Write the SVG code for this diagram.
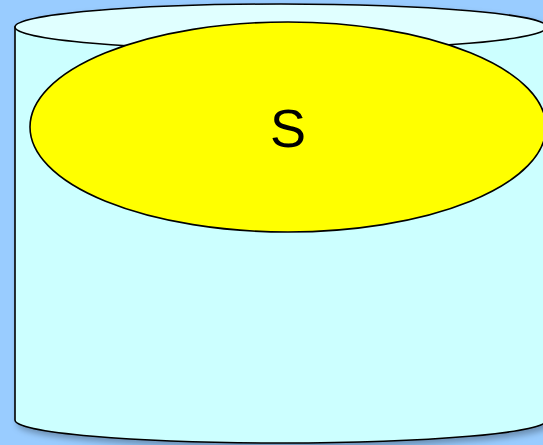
<svg xmlns="http://www.w3.org/2000/svg" width="543" height="445" viewBox="0 0 543 445">
  <defs>
    <filter id="shadow" x="-10%" y="-10%" width="130%" height="130%">
      <feGaussianBlur in="SourceAlpha" stdDeviation="3"/>
      <feOffset dx="3" dy="4" result="b"/>
      <feFlood flood-color="#000000" flood-opacity="0.3"/>
      <feComposite in2="b" operator="in"/>
      <feMerge><feMergeNode/><feMergeNode in="SourceGraphic"/></feMerge>
    </filter>
  </defs>
  <style>
    .outline { stroke: #000000; stroke-width: 1.6; }
    .label { font-family: "Liberation Sans", Arial, sans-serif; font-size: 54px; fill: #000000; }
  </style>
  <rect x="0" y="0" width="543" height="445" fill="#99ccff"/>
  <g id="cylinder" filter="url(#shadow)">
    <path class="outline" fill="#ccffff" d="M15,27 L15,420 A266,23 0 0 0 547,420 L547,27 Z"/>
    <ellipse class="outline" cx="281" cy="27" rx="266" ry="23" fill="#e0ffff"/>
  </g>
  <g id="node-S">
    <ellipse class="outline" cx="288" cy="127" rx="258" ry="105" fill="#ffff00"/>
    <text class="label" x="288" y="147" text-anchor="middle">S</text>
  </g>
  <g id="connectors"/>
</svg>
